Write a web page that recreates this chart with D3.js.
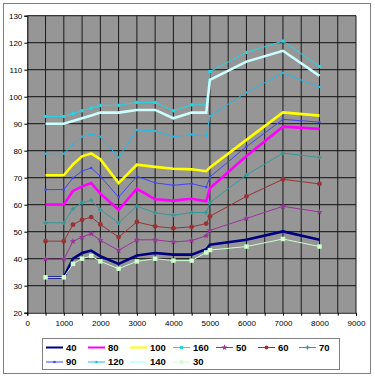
<!DOCTYPE html>
<html>
<head>
<meta charset="utf-8">
<script src="https://cdn.jsdelivr.net/npm/d3@7"></script>
<style>
  body { margin: 0; background: #fff; }
  svg text { font-family: Arial, "Liberation Sans", sans-serif; fill: #000; }
</style>
</head>
<body>
<svg id="chart" width="375" height="376"></svg>
<script>
// x positions of the measurements
const xs = [500, 1000, 1250, 1500, 1750, 2000, 2500, 3000, 3500, 4000, 4500, 4900, 5000, 6000, 7000, 8000]

const s40 = [33.1, 33.1, 40, 42.1, 43, 40.9, 38.1, 41.2, 42.1, 41.5, 41.5, 43.5, 45.2, 47, 50.1, 47]
const s80 = [60.1, 60.1, 65.1, 66.8, 68, 64.1, 58.1, 65.9, 62, 61.5, 62.2, 61.3, 66.1, 78, 88.9, 88.1]
const s100 = [70.9, 70.9, 74.9, 77.9, 79, 76.8, 68, 74.8, 74, 73.3, 73.1, 72.4, 73.8, 84, 94.2, 93]
const s160 = [92.7, 92.7, 93.7, 94.8, 95.8, 96.8, 96.8, 97.9, 97.9, 94.8, 97, 97, 109.3, 116.4, 120.6, 111.2]
const s50 = [39.8, 39.8, 46.4, 48, 49.3, 46.8, 43.1, 47, 47, 46.2, 46.7, 48.5, 50.5, 54.9, 59.4, 57.3]
const s60 = [46.5, 46.5, 52.6, 54.4, 55.4, 52.7, 48, 53.6, 52, 51.3, 51.8, 53, 55.7, 63.1, 69.4, 67.7]
const s70 = [53.3, 53.3, 58.5, 60.7, 61.6, 58.1, 53.3, 59.5, 57, 56.1, 57.1, 57.1, 60.8, 71, 79.1, 77.5]
const s90 = [65.6, 65.6, 69.9, 72.5, 73.6, 70.5, 62.8, 70.5, 68.1, 67.2, 67.8, 66.5, 70.3, 81.5, 91.6, 90.6]
const s120 = [78.9, 78.9, 82.3, 85.2, 86.2, 85.2, 77.5, 87.7, 87.3, 85.2, 86, 85.5, 92.8, 101.6, 108.8, 103.6]
const s140 = [90, 90, 91, 92, 93, 94.1, 94.1, 95.1, 95.1, 92, 94.1, 94.1, 106.2, 113, 117, 107.7]
const s30 = [33.1, 33.1, 38.1, 40, 41, 39, 36.3, 39, 40, 39.3, 39.3, 42.3, 43.2, 44.5, 47.3, 44.5]

const xTicks = [0, 1000, 2000, 3000, 4000, 5000, 6000, 7000, 8000, 9000]
const yTicks = [20, 30, 40, 50, 60, 70, 80, 90, 100, 110, 120, 130]

// legend order = draw order
const series = [
  { name: '40', values: s40, color: '#000080', width: 2.6, marker: null },
  { name: '80', values: s80, color: '#ff00ff', width: 2.6, marker: null },
  { name: '100', values: s100, color: '#ffff00', width: 2.6, marker: null },
  { name: '160', values: s160, color: '#22d6e8', width: 1, marker: d3.symbolSquare, msize: 10 },
  { name: '50', values: s50, color: '#993399', width: 1, marker: d3.symbolStar, msize: 14 },
  { name: '60', values: s60, color: '#993333', width: 1, marker: d3.symbolCircle, msize: 18 },
  { name: '70', values: s70, color: '#339999', width: 1, marker: d3.symbolCross, msize: 10 },
  { name: '90', values: s90, color: '#4444f0', width: 1, marker: d3.symbolSquare, msize: 5 },
  { name: '120', values: s120, color: '#22bbe6', width: 1, marker: d3.symbolSquare, msize: 5 },
  { name: '140', values: s140, color: '#ccffff', width: 2.6, marker: null },
  { name: '30', values: s30, color: '#ccffcc', width: 1, marker: d3.symbolSquare, msize: 20 }
]

const svg = d3.select('svg#chart')

// outer chart frame
svg.append('rect')
  .attr('x', 3.5).attr('y', 3.5)
  .attr('width', 367).attr('height', 370)
  .attr('fill', '#fff')
  .attr('stroke', '#808080')

const x = d3.scaleLinear().domain([0, 9000]).range([27.3, 356])
const y = d3.scaleLinear().domain([20, 130]).range([312.7, 15.7])

// plot area
svg.append('rect')
  .attr('x', x(0)).attr('y', y(130))
  .attr('width', x(9000) - x(0)).attr('height', y(20) - y(130))
  .attr('fill', '#969696')

const grid = svg.append('g')
grid.selectAll('.v')
  .data(d3.range(500, 9001, 500))
  .enter().append('line')
  .attr('x1', d => x(d)).attr('x2', d => x(d))
  .attr('y1', y(130)).attr('y2', y(20))
  .attr('stroke', '#1a1a1a').attr('stroke-width', 1)
grid.selectAll('.h')
  .data(yTicks.slice(1))
  .enter().append('line')
  .attr('x1', x(0)).attr('x2', x(9000))
  .attr('y1', d => y(d)).attr('y2', d => y(d))
  .attr('stroke', '#111').attr('stroke-width', 1)

// axes
const xAxis = svg.append('g')
  .attr('transform', 'translate(0,' + y(20) + ')')
  .call(d3.axisBottom(x).tickValues(d3.range(0, 9001, 500)).tickSize(3).tickPadding(5)
    .tickFormat(d => d % 1000 === 0 ? d : ''))
const yAxis = svg.append('g')
  .attr('transform', 'translate(' + x(0) + ',0)')
  .call(d3.axisLeft(y).tickValues(yTicks).tickSize(3).tickPadding(2))

;[xAxis, yAxis].forEach(a => {
  a.select('.domain').attr('stroke', '#000')
  a.selectAll('.tick line').attr('stroke', '#000')
  a.selectAll('text').attr('font-size', 8).attr('fill', '#333')
    .style('font-family', 'Arial, "Liberation Sans", sans-serif')
})

// lines
const line = d3.line()
  .x((d, i) => x(xs[i]))
  .y(d => y(d))

const plot = svg.append('g')
series.forEach(s => {
  plot.append('path')
    .datum(s.values)
    .attr('fill', 'none')
    .attr('stroke', s.color)
    .attr('stroke-width', s.width)
    .attr('stroke-linejoin', 'miter')
    .attr('d', line)
  if (s.marker) {
    plot.selectAll(null)
      .data(s.values)
      .enter().append('path')
      .attr('transform', (d, i) => 'translate(' + x(xs[i]) + ',' + y(d) + ')')
      .attr('d', d3.symbol().type(s.marker).size(s.msize))
      .attr('fill', s.color)
  }
})

// legend
const legend = svg.append('g')
legend.append('rect')
  .attr('x', 42.5).attr('y', 338.5)
  .attr('width', 297).attr('height', 31)
  .attr('fill', '#fff')
  .attr('stroke', '#808080')

const colX = [46, 88, 130, 173, 216, 258, 299]
const rowY = [347.5, 362]

series.forEach((s, i) => {
  const row = i < 7 ? 0 : 1
  const col = i < 7 ? i : i - 7
  const lx = colX[col]
  const ly = rowY[row]
  const item = legend.append('g')
  item.append('line')
    .attr('x1', lx).attr('x2', lx + 17)
    .attr('y1', ly).attr('y2', ly)
    .attr('stroke', s.color)
    .attr('stroke-width', s.width > 2 ? 2 : 1)
  if (s.marker) {
    item.append('path')
      .attr('transform', 'translate(' + (lx + 8.5) + ',' + ly + ')')
      .attr('d', d3.symbol().type(s.marker).size(Math.min(s.msize, 12)))
      .attr('fill', s.color)
  }
  item.append('text')
    .attr('x', lx + 20)
    .attr('y', ly)
    .attr('dy', '0.36em')
    .attr('font-size', 9.5)
    .attr('font-weight', 'bold')
    .text(s.name)
})
</script>
</body>
</html>
